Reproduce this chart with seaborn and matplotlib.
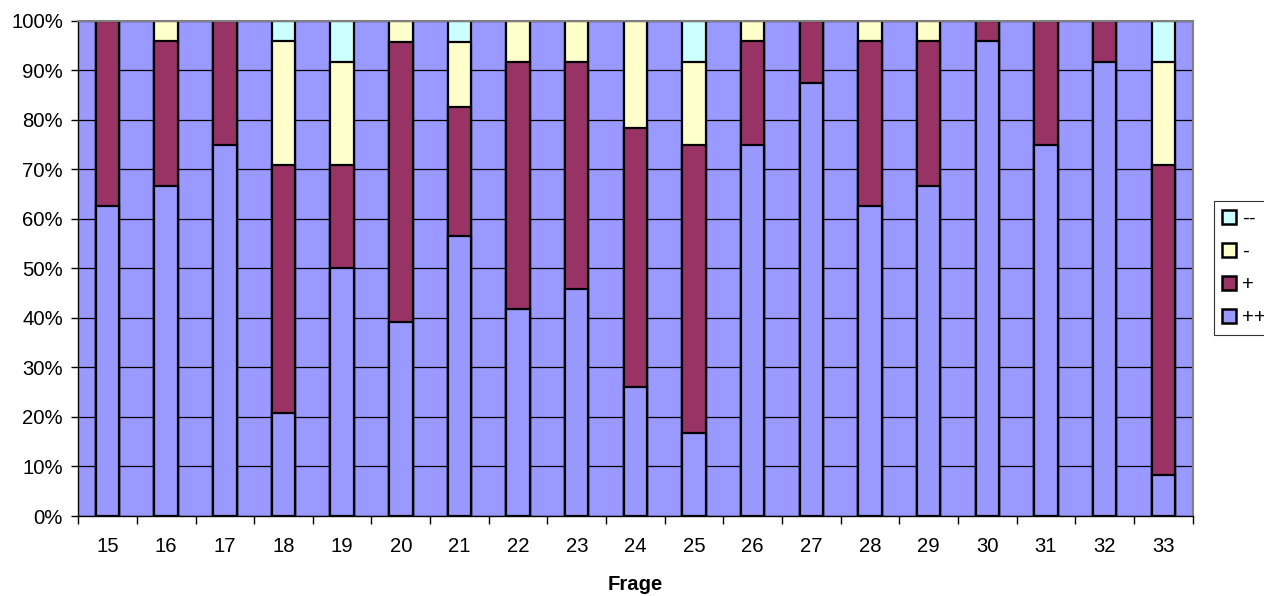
import matplotlib
matplotlib.use("Agg")
import matplotlib.pyplot as plt
from matplotlib.patches import Patch
from matplotlib.ticker import FixedLocator, PercentFormatter
import seaborn as sns
import pandas as pd
import numpy as np

fragen = ["15", "16", "17", "18", "19", "20", "21", "22", "23", "24",
          "25", "26", "27", "28", "29", "30", "31", "32", "33"]
pp = [62.5, 66.7, 75.0, 20.8, 50.0, 39.1, 56.5, 41.7, 45.8, 26.1,
      16.7, 75.0, 87.5, 62.5, 66.7, 95.8, 75.0, 91.7, 8.3]
p = [37.5, 29.1, 25.0, 50.0, 20.8, 56.5, 26.1, 50.0, 45.9, 52.2,
     58.3, 20.8, 12.5, 33.3, 29.1, 4.2, 25.0, 8.3, 62.5]
m = [0.0, 4.2, 0.0, 25.0, 20.8, 4.4, 13.0, 8.3, 8.3, 21.7,
     16.7, 4.2, 0.0, 4.2, 4.2, 0.0, 0.0, 0.0, 20.8]
mm = [0.0, 0.0, 0.0, 4.2, 8.4, 0.0, 4.4, 0.0, 0.0, 0.0,
      8.3, 0.0, 0.0, 0.0, 0.0, 0.0, 0.0, 0.0, 8.4]
series_names = ["++", "+", "-", "--"]
colors = {"++": "#9999FF", "+": "#993366", "-": "#FFFFCC", "--": "#CCFFFF"}

df = pd.DataFrame({"Frage": fragen, "++": pp, "+": p, "-": m, "--": mm})
tot = df[series_names].sum(axis=1)
for s in series_names:
    df[s] = df[s] / tot * 100
cum = df[series_names].cumsum(axis=1)

plt.rcParams["font.family"] = ["Liberation Sans", "DejaVu Sans"]
FS = 14.6
fig = plt.figure(figsize=(12.64, 5.96), dpi=100)
ax = fig.add_axes([0.0619, 0.1342, 0.9435 - 0.0619, 0.9653 - 0.1342])
ax.set_facecolor("#9999FF")
ax.set_axisbelow(True)
ax.yaxis.grid(True, color="black", linewidth=0.9)

for s in reversed(series_names):
    sns.barplot(x=df["Frage"], y=cum[s], color=colors[s], width=0.4,
                edgecolor="black", linewidth=1.6, saturation=1, ax=ax,
                order=fragen, errorbar=None)

ax.set_xlim(-0.5, len(fragen) - 0.5)
ax.set_ylim(0, 100)
ax.yaxis.set_major_locator(FixedLocator(np.arange(0, 101, 10)))
ax.yaxis.set_major_formatter(PercentFormatter(decimals=0))
ax.tick_params(axis="y", labelsize=FS, length=5, width=1, color="black", pad=6)
ax.tick_params(axis="x", which="major", labelsize=FS, length=0, pad=15)
ax.xaxis.set_minor_locator(FixedLocator(np.arange(-0.5, len(fragen), 1)))
ax.tick_params(axis="x", which="minor", length=6, width=1, color="black")
ax.set_xlabel("Frage", fontsize=FS, fontweight="bold", labelpad=14)
ax.set_ylabel("")

for side in ["top", "right"]:
    ax.spines[side].set_color("#808080")
    ax.spines[side].set_linewidth(1.5)
for side in ["left", "bottom"]:
    ax.spines[side].set_color("black")
    ax.spines[side].set_linewidth(1)

handles = [Patch(facecolor=colors[s], edgecolor="black", linewidth=1.8, label=s)
           for s in ["--", "-", "+", "++"]]
leg = fig.legend(handles=handles, loc="upper left",
                 bbox_to_anchor=(0.9604, 0.6633), bbox_transform=fig.transFigure,
                 fontsize=FS, frameon=True, fancybox=False, borderaxespad=0,
                 handlelength=0.68, handleheight=0.68, handletextpad=0.3,
                 labelspacing=0.7, borderpad=0.4)
leg.get_frame().set_edgecolor("black")
leg.get_frame().set_linewidth(0.8)

fig.savefig("out.png", dpi=100)
